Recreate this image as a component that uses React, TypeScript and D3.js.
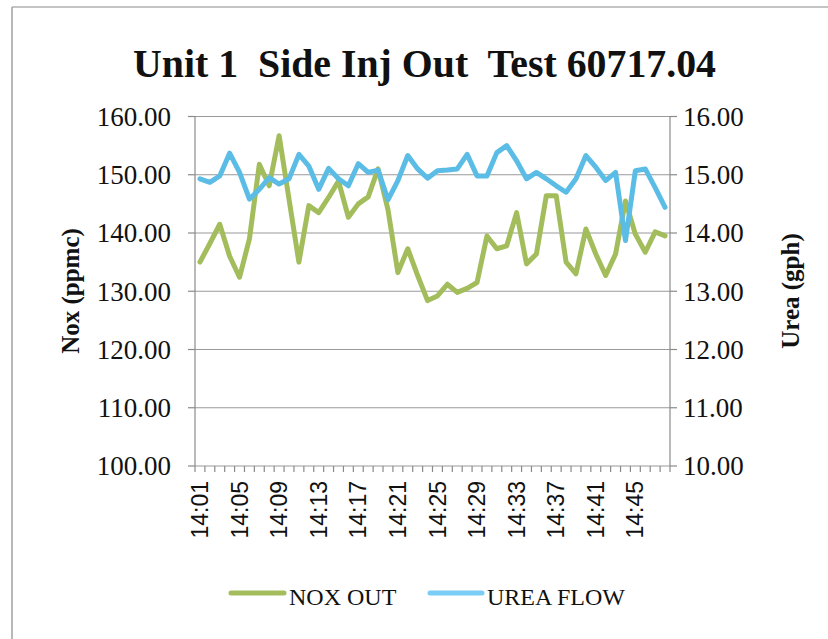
import React from "react";
import * as d3 from "d3";

// minute-by-minute readings, 14:01 .. 14:48
const times = [
  "14:01", "14:02", "14:03", "14:04", "14:05", "14:06", "14:07", "14:08",
  "14:09", "14:10", "14:11", "14:12", "14:13", "14:14", "14:15", "14:16",
  "14:17", "14:18", "14:19", "14:20", "14:21", "14:22", "14:23", "14:24",
  "14:25", "14:26", "14:27", "14:28", "14:29", "14:30", "14:31", "14:32",
  "14:33", "14:34", "14:35", "14:36", "14:37", "14:38", "14:39", "14:40",
  "14:41", "14:42", "14:43", "14:44", "14:45", "14:46", "14:47", "14:48",
];

const noxOut = [
  135.0, 138.2, 141.5, 136.0, 132.4, 139.0, 151.8, 148.1,
  156.7, 145.8, 135.0, 144.7, 143.5, 146.1, 148.9, 142.7,
  145.0, 146.2, 151.0, 144.0, 133.2, 137.3, 132.7, 128.4,
  129.2, 131.2, 129.8, 130.5, 131.5, 139.5, 137.3, 137.8,
  143.5, 134.7, 136.4, 146.4, 146.4, 135.0, 133.0, 140.7,
  136.4, 132.7, 136.4, 145.5, 139.8, 136.7, 140.2, 139.5,
];

const ureaFlow = [
  14.93, 14.87, 14.98, 15.37, 15.04, 14.58, 14.75, 14.95,
  14.84, 14.93, 15.35, 15.15, 14.75, 15.11, 14.93, 14.81,
  15.19, 15.04, 15.08, 14.57, 14.9, 15.33, 15.1, 14.94,
  15.07, 15.08, 15.1, 15.35, 14.98, 14.98, 15.38, 15.5,
  15.24, 14.93, 15.04, 14.93, 14.81, 14.7, 14.93, 15.33,
  15.13, 14.9, 15.04, 13.87, 15.07, 15.1, 14.78, 14.44,
];

const noxTicks = [100, 110, 120, 130, 140, 150, 160];
const ureaTicks = [10, 11, 12, 13, 14, 15, 16];
const labelEvery = 4;

const GREEN = "#a3bd5c";
const BLUE = "#5bbde6";
const SERIF = "'Liberation Serif', 'Times New Roman', serif";
const SANS = "'Liberation Sans', Arial, sans-serif";

const App = () => {
  const left = 195;
  const right = 670;
  const top = 116.5;
  const bottom = 466;

  const x = d3.scaleBand<string>().domain(times).range([left, right]);
  const cx = (t: string) => (x(t) as number) + x.bandwidth() / 2;
  const yNox = d3.scaleLinear().domain([100, 160]).range([bottom, top]);
  const yUrea = d3.scaleLinear().domain([10, 16]).range([bottom, top]);

  const noxLine = d3
    .line<number>()
    .x((d, i) => cx(times[i]))
    .y((d) => yNox(d));
  const ureaLine = d3
    .line<number>()
    .x((d, i) => cx(times[i]))
    .y((d) => yUrea(d));

  const tickEdges = times.map((t) => x(t) as number).concat([right]);

  return (
    <svg
      width={828}
      height={639}
      style={{ position: "absolute", left: 0, top: 0, background: "#fff" }}
      fontFamily={SERIF}
    >
      {/* scan frame */}
      <line x1={12} y1={7} x2={828} y2={7} stroke="#b0b0b0" strokeWidth={1.5} />
      <line x1={12} y1={7} x2={12} y2={639} stroke="#a0a0a0" strokeWidth={1.5} />

      <text
        x={424.5}
        y={77}
        textAnchor="middle"
        fontSize={40}
        fontWeight="bold"
        textLength={583}
        lengthAdjust="spacingAndGlyphs"
        fill="#111"
        style={{ whiteSpace: "pre" }}
      >
        {"Unit 1  Side Inj Out  Test 60717.04"}
      </text>

      {/* grid */}
      {noxTicks.map((v) => (
        <line key={"g" + v} x1={left} x2={right} y1={yNox(v)} y2={yNox(v)} stroke="#9a9a9a" strokeWidth={1.2} />
      ))}
      <line x1={left} x2={left} y1={top} y2={bottom} stroke="#8a8a8a" strokeWidth={1.2} />
      <line x1={right} x2={right} y1={top} y2={bottom} stroke="#8a8a8a" strokeWidth={1.2} />

      {/* left axis */}
      {noxTicks.map((v) => (
        <g key={"l" + v}>
          <line x1={left - 7} x2={left} y1={yNox(v)} y2={yNox(v)} stroke="#8a8a8a" strokeWidth={1.2} />
          <text x={171} y={yNox(v)} dy="0.35em" textAnchor="end" fontSize={27} fill="#111">
            {v.toFixed(2)}
          </text>
        </g>
      ))}
      {/* right axis */}
      {ureaTicks.map((v) => (
        <g key={"r" + v}>
          <line x1={right} x2={right + 7} y1={yUrea(v)} y2={yUrea(v)} stroke="#8a8a8a" strokeWidth={1.2} />
          <text x={683} y={yUrea(v)} dy="0.35em" textAnchor="start" fontSize={27} fill="#111">
            {v.toFixed(2)}
          </text>
        </g>
      ))}

      {/* x axis */}
      {tickEdges.map((e, i) => (
        <line key={"t" + i} x1={e} x2={e} y1={bottom} y2={bottom + 6} stroke="#8a8a8a" strokeWidth={1.2} />
      ))}
      {times.map((t, i) =>
        i % labelEvery === 0 ? (
          <text
            key={"x" + t}
            transform={`translate(${cx(t)},${481}) rotate(-90)`}
            dy="0.35em"
            textAnchor="end"
            fontSize={23}
            fontFamily={SANS}
            fill="#111"
          >
            {t}
          </text>
        ) : null
      )}

      {/* axis titles */}
      <text
        transform="translate(70,291) rotate(-90)"
        dy="0.35em"
        textAnchor="middle"
        fontSize={25}
        fontWeight="bold"
        fill="#111"
      >
        Nox (ppmc)
      </text>
      <text
        transform="translate(790,291) rotate(-90)"
        dy="0.35em"
        textAnchor="middle"
        fontSize={25}
        fontWeight="bold"
        fill="#111"
      >
        Urea (gph)
      </text>

      {/* series */}
      <path d={noxLine(noxOut) || ""} fill="none" stroke={GREEN} strokeWidth={5} strokeLinejoin="round" strokeLinecap="round" />
      <path d={ureaLine(ureaFlow) || ""} fill="none" stroke={BLUE} strokeWidth={5} strokeLinejoin="round" strokeLinecap="round" />

      {/* legend */}
      <line x1={231} x2={284} y1={593} y2={593} stroke={GREEN} strokeWidth={5} strokeLinecap="round" />
      <text x={289} y={605} fontSize={24} fill="#111">NOX OUT</text>
      <line x1={430} x2={482} y1={593} y2={593} stroke="#7ccdf5" strokeWidth={5} strokeLinecap="round" />
      <text x={487} y={605} fontSize={24} fill="#111">UREA FLOW</text>
    </svg>
  );
};

export default App;
